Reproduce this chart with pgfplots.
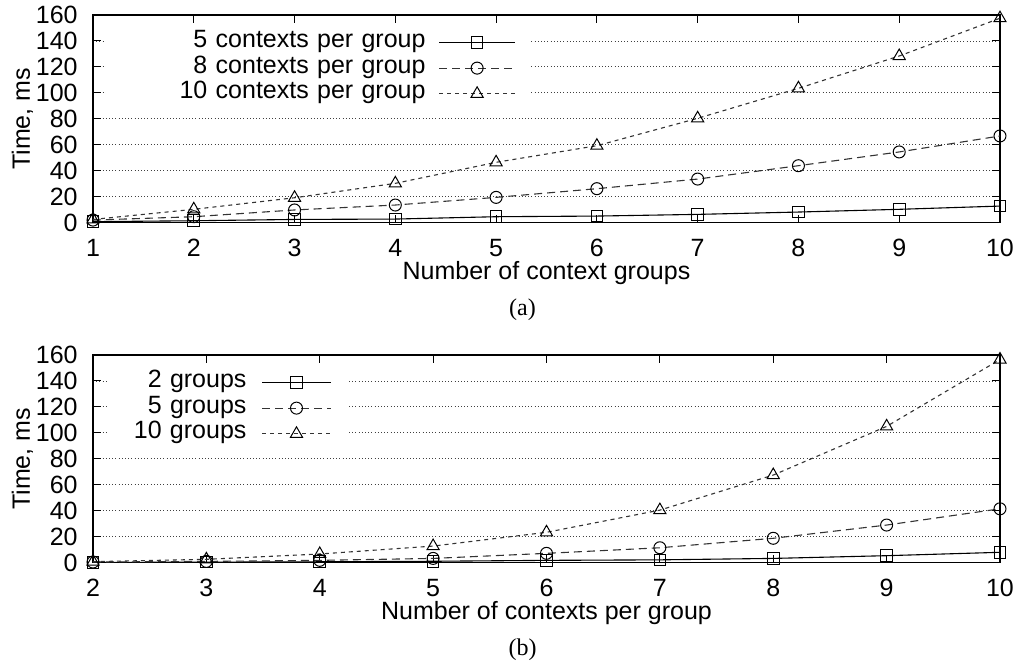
\documentclass[border=0pt]{standalone}
\usepackage{fontspec}
\setmainfont{Liberation Sans}
\newfontfamily\capfont{Liberation Serif}
\usepackage{pgfplots}
\pgfplotsset{compat=1.18}
\begin{document}
\fontsize{12.5pt}{15pt}\selectfont
\begin{tikzpicture}
\path[use as bounding box] (-46.5pt,-52.15pt) rectangle (464pt,281.35pt);
\pgfplotsset{
 common/.style={
  scale only axis, width=453.5pt, height=103.85pt,
  anchor=south west,
  ymin=0, ymax=160, ytick={0,20,...,160},
  ymajorgrids,
  grid style={black!75, line width=0.45pt, dash pattern=on 0.5pt off 1.1pt},
  tick align=inside, major tick length=4pt,
  tick style={black, line width=0.5pt},
  axis line style={line width=0.7pt},
  clip=false,
  /pgf/number format/assume math mode=true,
  ticklabel style={font=\fontsize{12.5pt}{15pt}\selectfont},
  xticklabel style={anchor=center, yshift=-12.65pt},
  yticklabel style={anchor=east, inner xsep=0pt, xshift=-7.5pt},
  label style={font=\fontsize{12.5pt}{15pt}\selectfont},
  xlabel style={at={(axis description cs:0.5,0)}, anchor=center, yshift=-25.15pt},
  ylabel style={at={(axis description cs:-0.0777,0.5)}, anchor=center},
  legend cell align=right, legend plot pos=right,
  legend style={draw=none, fill=white, inner xsep=7.5pt, inner ysep=2pt,
    font=\fontsize{12.5pt}{15pt}\selectfont, anchor=north east,
    /tikz/every odd column/.append style={column sep=6.5pt}},
 },
 s1/.style={black, line width=0.55pt, solid, mark=square, mark size=2.9pt, mark options={solid, black, line width=0.5pt}},
 s2/.style={black!80, line width=0.55pt, dash pattern=on 4pt off 2.5pt, mark=o, mark size=3pt, mark options={solid, black, line width=0.5pt}},
 s3/.style={black!80, line width=0.55pt, dash pattern=on 2pt off 2pt, mark=triangle, mark size=3.5pt, mark options={solid, black, line width=0.5pt}},
 leglongA/.style={legend image code/.code={\draw[mark repeat=2,mark phase=2,##1] plot coordinates {(0pt,0pt)(19pt,0pt)(38pt,0pt)};}},
 leglongB/.style={legend image code/.code={\draw[mark repeat=2,mark phase=2,##1] plot coordinates {(0pt,0pt)(17.25pt,0pt)(34.5pt,0pt)};}},
}
% (a)
\begin{axis}[common, at={(0pt,170pt)},
  xmin=1, xmax=10, xtick={1,...,10},
  xlabel={Number of context groups}, ylabel={Time, ms},
  legend style={at={(0.483,0.951)}, nodes={text width=152.5pt, align=right, inner xsep=0pt, inner ysep=0pt, text height=9pt, text depth=3.85pt}},
  leglongA,
]
\addplot[s1] coordinates {(1,0.8)(2,1.5)(3,2.5)(4,2.8)(5,4.6)(6,5.1)(7,6.4)(8,8.2)(9,10.3)(10,12.8)};
\addlegendentry{5 contexts per group}
\addplot[s2] coordinates {(1,2)(2,4.6)(3,9.8)(4,13.6)(5,19.5)(6,26.2)(7,33.6)(8,43.9)(9,54.5)(10,66.8)};
\addlegendentry{8 contexts per group}
\addplot[s3] coordinates {(1,2.5)(2,10.3)(3,19.2)(4,30.3)(5,46.5)(6,59.3)(7,80.4)(8,103.5)(9,128.4)(10,157.5)};
\addlegendentry{10 contexts per group}
\end{axis}
% (b)
\begin{axis}[common, at={(0pt,0pt)},
  xmin=2, xmax=10, xtick={2,...,10},
  xlabel={Number of contexts per group}, ylabel={Time, ms},
  legend style={at={(0.280,0.951)}, nodes={text width=61.5pt, align=right, inner xsep=0pt, inner ysep=0pt, text height=9pt, text depth=3.85pt},
    /tikz/every odd column/.append style={column sep=7.5pt}},
  leglongB,
]
\addplot[s1] coordinates {(2,0.2)(3,0.4)(4,0.7)(5,1.1)(6,1.8)(7,2.2)(8,3.3)(9,5.4)(10,8)};
\addlegendentry{2 groups}
\addplot[s2] coordinates {(2,0.5)(3,1.0)(4,1.8)(5,3.3)(6,7.2)(7,11.5)(8,18.8)(9,29)(10,41.5)};
\addlegendentry{5 groups}
\addplot[s3] coordinates {(2,0.8)(3,2.6)(4,6.7)(5,12.8)(6,23.4)(7,40.5)(8,67.5)(9,105)(10,156.5)};
\addlegendentry{10 groups}
\end{axis}
\node[font=\capfont\fontsize{12pt}{14pt}\selectfont] at (214.75pt,126.35pt) {(a)};
\node[font=\capfont\fontsize{12pt}{14pt}\selectfont] at (214.75pt,-43.65pt) {(b)};
\end{tikzpicture}
\end{document}
